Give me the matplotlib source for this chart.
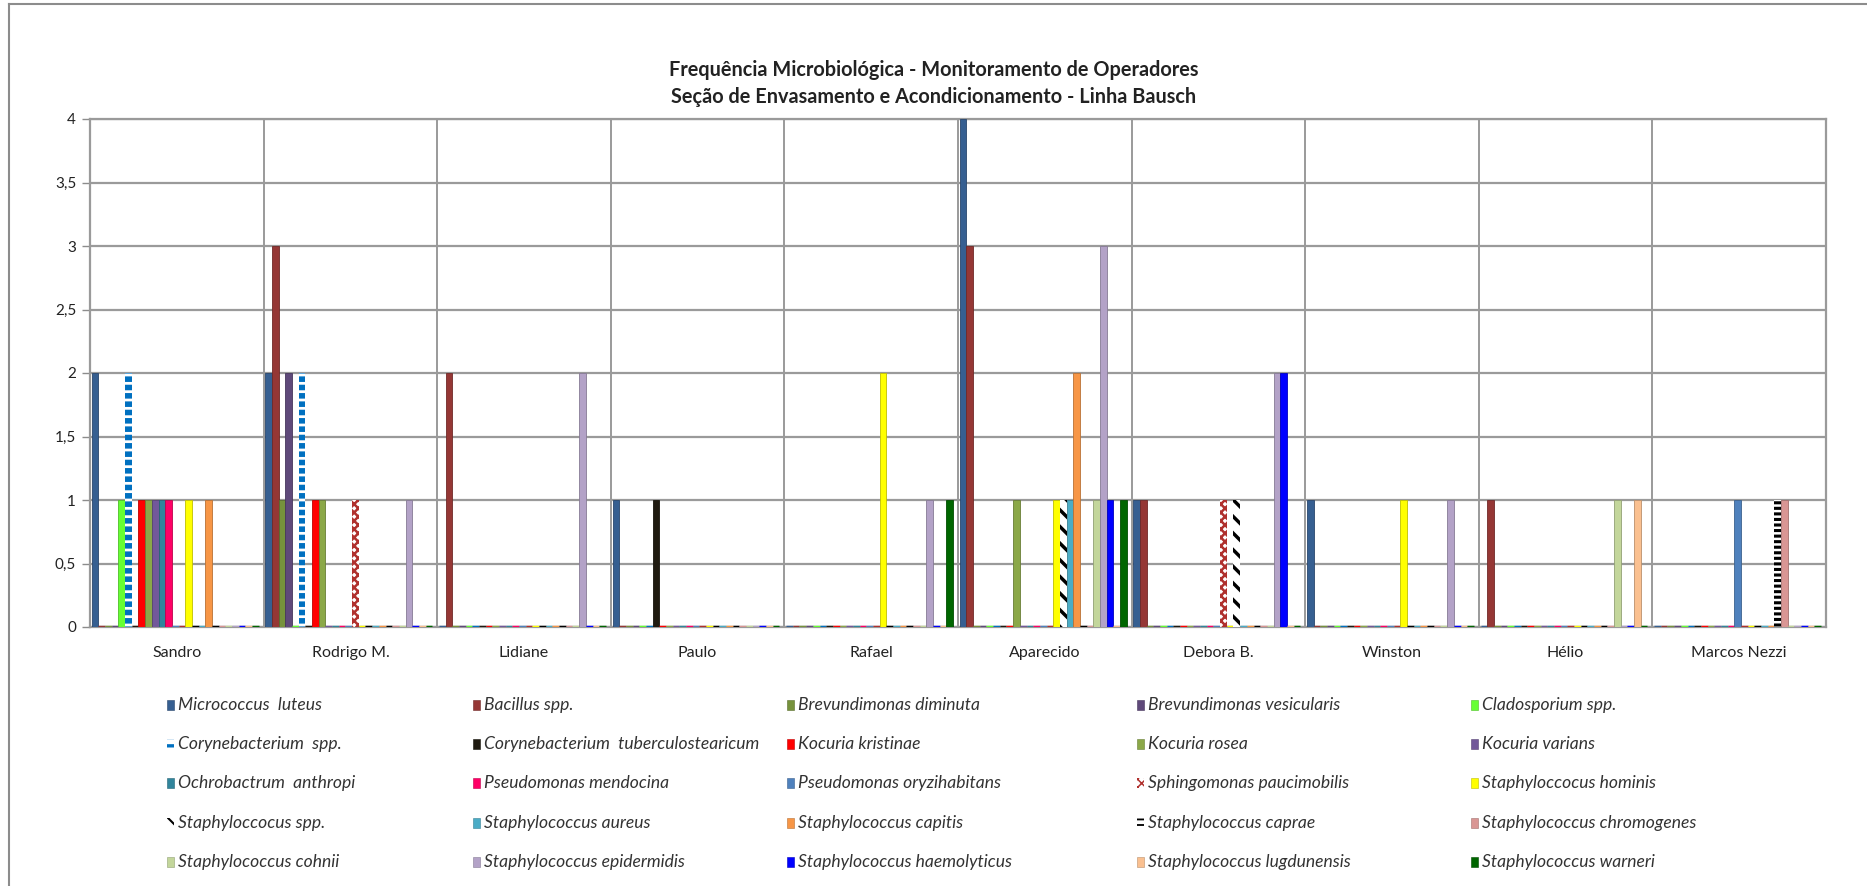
import matplotlib
matplotlib.use("Agg")
import matplotlib.pyplot as plt
from matplotlib.patches import Rectangle
from matplotlib.lines import Line2D
from matplotlib.ticker import FuncFormatter
import matplotlib.colors as mcolors
import numpy as np

plt.rcParams['font.family'] = ['Lato', 'DejaVu Sans']

title_lines = [
    "Frequência Microbiológica - Monitoramento de Operadores",
    "Seção de Envasamento e Acondicionamento - Linha Bausch",
]

operators = ["Sandro", "Rodrigo M.", "Lidiane", "Paulo", "Rafael",
             "Aparecido", "Debora B.", "Winston", "Hélio", "Marcos Nezzi"]

species = [
    "Micrococcus  luteus", "Bacillus spp.", "Brevundimonas diminuta",
    "Brevundimonas vesicularis", "Cladosporium spp.", "Corynebacterium  spp.",
    "Corynebacterium  tuberculostearicum", "Kocuria kristinae", "Kocuria rosea",
    "Kocuria varians", "Ochrobactrum  anthropi", "Pseudomonas mendocina",
    "Pseudomonas oryzihabitans", "Sphingomonas paucimobilis", "Staphyloccocus hominis",
    "Staphyloccocus spp.", "Staphylococcus aureus", "Staphylococcus capitis",
    "Staphylococcus caprae", "Staphylococcus chromogenes", "Staphylococcus cohnii",
    "Staphylococcus epidermidis", "Staphylococcus haemolyticus",
    "Staphylococcus lugdunensis", "Staphylococcus warneri",
]

# occurrences per operator, one entry per species (same order as `species`)
sandro       = [2, 0, 0, 0, 1, 2, 0, 1, 1, 1, 1, 1, 0, 0, 1, 0, 0, 1, 0, 0, 0, 0, 0, 0, 0]
rodrigo_m    = [2, 3, 1, 2, 0, 2, 0, 1, 1, 0, 0, 0, 0, 1, 0, 0, 0, 0, 0, 0, 0, 1, 0, 0, 0]
lidiane      = [0, 2, 0, 0, 0, 0, 0, 0, 0, 0, 0, 0, 0, 0, 0, 0, 0, 0, 0, 0, 0, 2, 0, 0, 0]
paulo        = [1, 0, 0, 0, 0, 0, 1, 0, 0, 0, 0, 0, 0, 0, 0, 0, 0, 0, 0, 0, 0, 0, 0, 0, 0]
rafael       = [0, 0, 0, 0, 0, 0, 0, 0, 0, 0, 0, 0, 0, 0, 2, 0, 0, 0, 0, 0, 0, 1, 0, 0, 1]
aparecido    = [4, 3, 0, 0, 0, 0, 0, 0, 1, 0, 0, 0, 0, 0, 1, 1, 1, 2, 0, 0, 1, 3, 1, 0, 1]
debora_b     = [1, 1, 0, 0, 0, 0, 0, 0, 0, 0, 0, 0, 0, 1, 0, 1, 0, 0, 0, 0, 0, 2, 2, 0, 0]
winston      = [1, 0, 0, 0, 0, 0, 0, 0, 0, 0, 0, 0, 0, 0, 1, 0, 0, 0, 0, 0, 0, 1, 0, 0, 0]
helio        = [0, 1, 0, 0, 0, 0, 0, 0, 0, 0, 0, 0, 0, 0, 0, 0, 0, 0, 0, 0, 1, 0, 0, 1, 0]
marcos_nezzi = [0, 0, 0, 0, 0, 0, 0, 0, 0, 0, 0, 0, 1, 0, 0, 0, 0, 0, 1, 1, 0, 0, 0, 0, 0]

y_ticks = [0, 0.5, 1, 1.5, 2, 2.5, 3, 3.5, 4]

colors = [
    "#365F91", "#953735", "#76923C", "#5F497A", "#66FF33",
    "#0070C0", "#1F1A10", "#FF0000", "#8BA848", "#72589A",
    "#31859C", "#FF0066", "#4F81BD", "#B0302D", "#FFFF00",
    "#000000", "#4BACC6", "#F79646", "#000000", "#D99694",
    "#C3D69B", "#B3A2C7", "#0000FF", "#FAC090", "#006600",
]
# patterned series: (hatch, hatch line width)
patterns = {
    5: ("--", 4.0),
    13: ("xxxx", 1.8),
    15: ("\\\\", 2.5),
    18: ("---", 2.2),
}

table = np.array([sandro, rodrigo_m, lidiane, paulo, rafael,
                  aparecido, debora_b, winston, helio, marcos_nezzi]).T

W, H = 1867, 886
fig = plt.figure(figsize=(W / 100, H / 100), dpi=100)
fig.patch.set_facecolor("white")

# chart frame
fig.add_artist(Line2D([9 / W, 9 / W], [0, 1 - 4 / H], transform=fig.transFigure,
                      color="#8c8c8c", lw=1.5))
fig.add_artist(Line2D([9 / W, 1], [1 - 4 / H, 1 - 4 / H], transform=fig.transFigure,
                      color="#8c8c8c", lw=1.5))

left, right, top, bottom = 90, 1826, 119, 627
ax = fig.add_axes([left / W, 1 - bottom / H, (right - left) / W, (bottom - top) / H])

n_series = len(species)
slot = 1.0 / 26
x0 = np.arange(len(operators)) - 0.5 + 0.01


def darker(c, f=0.75):
    r, g, b = mcolors.to_rgb(c)
    return (r * f, g * f, b * f)


for i in range(n_series):
    xs = x0 + i * slot
    vals = table[i]
    for x, v in zip(xs, vals):
        if i in patterns:
            hatch, hlw = patterns[i]
            with plt.rc_context({"hatch.linewidth": hlw}):
                if v > 0:
                    ax.bar(x, v, width=slot, align="edge", color="white",
                           edgecolor=colors[i], hatch=hatch, linewidth=0, zorder=3)
                else:
                    ax.bar(x, v, width=slot, align="edge", color=colors[i],
                           edgecolor=colors[i], linewidth=2.5, zorder=3)
        else:
            if v > 0:
                ax.bar(x, v, width=slot, align="edge", color=colors[i],
                       edgecolor=darker(colors[i]), linewidth=0.6, zorder=3)
            else:
                ax.bar(x, v, width=slot, align="edge", color=colors[i],
                       edgecolor=colors[i], linewidth=2.5, zorder=3)

ax.set_xlim(-0.5, len(operators) - 0.5)
ax.set_ylim(0, 4)
ax.set_yticks(y_ticks)
ax.yaxis.set_major_formatter(FuncFormatter(lambda v, p: f"{v:g}".replace(".", ",")))
ax.tick_params(axis="y", length=6, width=1, color="#8c8c8c", pad=4,
               labelsize=11, labelcolor="#222222")
ax.set_xticks(np.arange(len(operators)))
ax.set_xticklabels(operators)
ax.tick_params(axis="x", length=0, pad=14, labelsize=11.5, labelcolor="#222222")

ax.grid(axis="y", color="#9a9a9a", lw=1.6, zorder=0)
for k in range(1, len(operators)):
    ax.axvline(k - 0.5, color="#9a9a9a", lw=1.4, zorder=0)
for s in ax.spines.values():
    s.set_color("#9a9a9a")
    s.set_linewidth(1.6)

# title
fig.text(0.5, 1 - 70 / H, title_lines[0], ha="center", va="center",
         fontsize=14.3, fontweight="bold", color="#222222")
fig.text(0.5, 1 - 97 / H, title_lines[1], ha="center", va="center",
         fontsize=14.3, fontweight="bold", color="#222222")

# legend (5 columns x 5 rows)
col_x = [167, 473, 787, 1137, 1471]
row_y = [705, 744, 783, 823, 862]
for i, name in enumerate(species):
    r, c = divmod(i, 5)
    mx, my = col_x[c], row_y[r]
    if i in patterns:
        hatch, hlw = patterns[i]
        with plt.rc_context({"hatch.linewidth": hlw * 0.6}):
            rect = Rectangle((mx / W, 1 - (my + 5) / H), 7 / W, 10 / H,
                             transform=fig.transFigure, facecolor="white",
                             edgecolor=colors[i], hatch=hatch, linewidth=0)
    else:
        rect = Rectangle((mx / W, 1 - (my + 5) / H), 7 / W, 10 / H,
                         transform=fig.transFigure, facecolor=colors[i],
                         edgecolor=darker(colors[i]), linewidth=0.4)
    fig.add_artist(rect)
    fig.text((mx + 11) / W, 1 - my / H, name, ha="left", va="center",
             fontsize=12.6, style="italic", color="#333333")

fig.savefig("out.png", dpi=100, facecolor="white")
